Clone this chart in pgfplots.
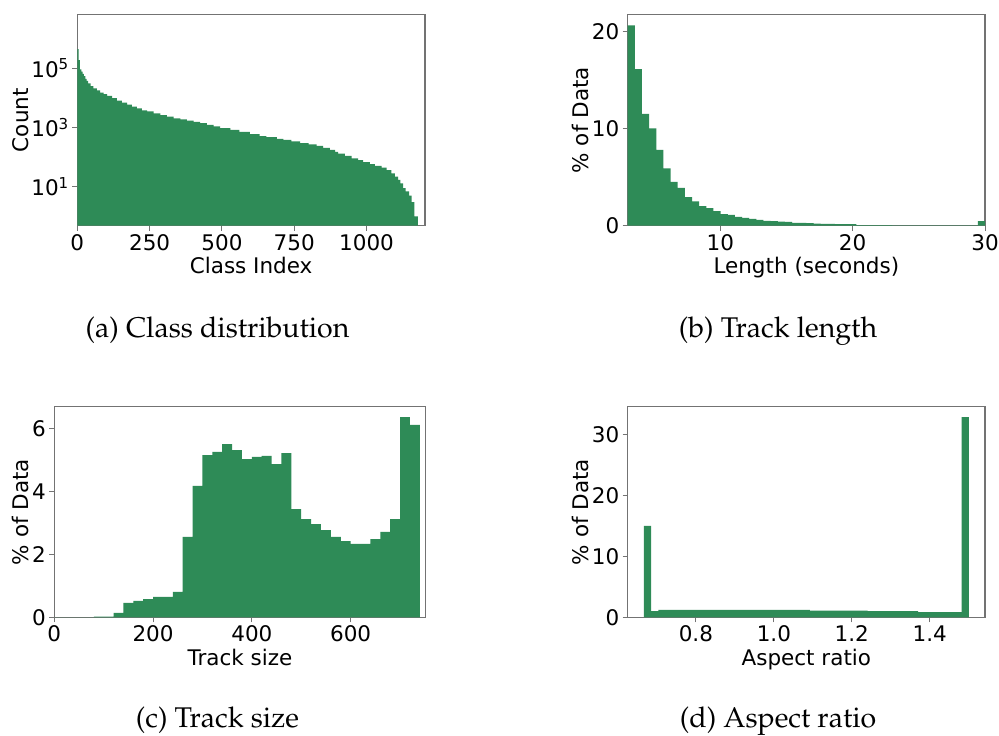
\documentclass[border=0pt]{standalone}
\usepackage[T1]{fontenc}
\usepackage{fontspec}
\setmainfont{DejaVu Sans}
\usepackage{pgfplots}
\pgfplotsset{compat=1.18}

\definecolor{seagreen}{RGB}{46,139,87}
\newcommand\axfont{\fontsize{21.5bp}{25bp}\selectfont}
\newcommand\capfont{\fontencoding{T1}\fontfamily{ppl}\fontseries{m}\fontshape{n}\fontsize{28.5bp}{32bp}\selectfont}

\pgfplotsset{
  histo/.style={
    scale only axis,
    anchor=south west,
    axis line style={draw=black!55, line width=1.2bp},
    tick style={draw=black!55, line width=1bp},
    tick align=outside,
    major tick length=5bp,
    minor tick length=0pt,
    xtick pos=bottom, ytick pos=left,
    tick label style={font=\axfont},
    label style={font=\axfont},
    ylabel style={yshift=-4bp},
    /pgf/number format/assume math mode=true,
    /pgf/number format/1000 sep={},
  },
  bars/.style={fill=seagreen, draw=none, const plot mark left},
}

\begin{document}
\begin{tikzpicture}
\path[use as bounding box] (0,0) rectangle (999bp,736bp);

% (a) class distribution
\begin{axis}[histo,
    at={(77.3bp,510.3bp)}, width=347.7bp, height=211bp,
    ymode=log, log origin y=infty,
    xmin=0, xmax=1202, ymin=0.48, ymax=6.5e6,
    xtick={0,250,500,750,1000},
    ytick={10,1000,100000},
    yticklabels={10\textsuperscript{1},10\textsuperscript{3},10\textsuperscript{5}},
    xlabel={Class Index}, ylabel={Count}]
  \addplot[bars] coordinates {
    (0,4.5e5) (4.6,1.9e5) (9.2,9.3e4) (13.8,7.8e4) (18.4,6.5e4) (23,5.4e4)
    (27.6,4.4e4) (32,3.8e4) (37,3.1e4) (46,2.5e4) (56,2.1e4) (68,1.8e4)
    (79,1.5e4) (91,1.35e4) (103,1.17e4) (120,9800) (137,8100) (154,6900)
    (172,5900) (189,5100) (206,4400) (223,3800) (241,3500) (264,3000)
    (287,2600) (310,2350) (333,2050) (356,1900) (379,1700) (402,1550)
    (425,1400) (448,1230) (471,1100) (494,955) (529,830) (560,710) (597,600)
    (630,510) (654,470) (690,415) (712,380) (740,340) (770,295) (800,270)
    (827,240) (850,205) (873,175) (891,150) (902,130) (925,110) (948,91)
    (971,79) (988,68) (1011,58) (1029,50) (1052,44) (1069,36) (1086,28)
    (1098,22) (1109,17) (1117,13) (1126,9) (1135,7) (1147,5) (1156,3)
    (1165,1) (1177,1)
  } \closedcycle;
\end{axis}

% (b) track length
\begin{axis}[histo,
    at={(627.7bp,510.3bp)}, width=357.3bp, height=211bp,
    xmin=3, xmax=30, ymin=0, ymax=21.7,
    xtick={10,20,30}, ytick={0,10,20},
    xlabel={Length (seconds)}, ylabel={\% of Data}]
  \addplot[bars] coordinates {
    (3.00,20.6) (3.54,16.1) (4.08,11.5) (4.62,10.0) (5.16,7.8) (5.70,5.9)
    (6.24,4.5) (6.78,3.9) (7.32,2.95) (7.86,2.5) (8.40,2.0) (8.94,1.8)
    (9.48,1.5) (10.02,1.2) (10.56,1.1) (11.10,0.9) (11.64,0.8) (12.18,0.7)
    (12.72,0.6) (13.26,0.5) (13.80,0.48) (14.34,0.41) (14.88,0.38)
    (15.42,0.3) (15.96,0.28) (16.50,0.26) (17.04,0.2) (17.58,0.19)
    (18.12,0.18) (18.66,0.17) (19.20,0.16) (19.74,0.15) (20.28,0.07)
    (20.82,0.06) (21.36,0.06) (21.90,0.05) (22.44,0.05) (22.98,0.04)
    (23.52,0.04) (24.06,0.04) (24.60,0.03) (25.14,0.03) (25.68,0.03)
    (26.22,0.03) (26.76,0.03) (27.30,0.03) (27.84,0.03) (28.38,0.03)
    (28.92,0.03) (29.46,0.48) (30.00,0.48)
  } \closedcycle;
\end{axis}

% (c) track size
\begin{axis}[histo,
    at={(54.3bp,118.7bp)}, width=371.4bp, height=210.6bp,
    xmin=0, xmax=752, ymin=0, ymax=6.71,
    xtick={0,200,400,600}, ytick={0,2,4,6},
    xlabel={Track size}, ylabel={\% of Data}]
  \addplot[bars] coordinates {
    (0,0) (80,0.02) (100,0.02) (120,0.14) (140,0.46) (160,0.52) (180,0.58)
    (200,0.65) (220,0.65) (240,0.81) (260,2.56) (280,4.19) (300,5.17)
    (320,5.27) (340,5.52) (360,5.33) (380,5.04) (400,5.11) (420,5.14)
    (440,4.88) (460,5.23) (480,3.45) (500,3.13) (520,2.97) (540,2.78)
    (560,2.56) (580,2.43) (600,2.34) (620,2.34) (640,2.49) (660,2.72)
    (680,3.13) (700,6.38) (720,6.13) (740,6.13)
  } \closedcycle;
\end{axis}

% (d) aspect ratio
\begin{axis}[histo,
    at={(627.7bp,118.7bp)}, width=357.3bp, height=210.6bp,
    xmin=0.625, xmax=1.5417, ymin=0, ymax=34.6,
    xtick={0.8,1.0,1.2,1.4}, ytick={0,10,20,30},
    xticklabel style={/pgf/number format/.cd, fixed, fixed zerofill, precision=1},
    xlabel={Aspect ratio}, ylabel={\% of Data}]
  \addplot[bars] coordinates {
    (0.6667,15.0) (0.6852,1.0) (0.7037,1.2) (1.0926,1.1) (1.2407,1.0)
    (1.3704,0.85) (1.4815,32.9) (1.5,32.9)
  } \closedcycle;
\end{axis}

\node[font=\capfont, anchor=base] at (217.5bp,398bp) {(a) Class distribution};
\node[font=\capfont, anchor=base] at (778bp,398bp) {(b) Track length};
\node[font=\capfont, anchor=base] at (217.5bp,8.5bp) {(c) Track size};
\node[font=\capfont, anchor=base] at (778bp,8.5bp) {(d) Aspect ratio};
\end{tikzpicture}
\end{document}
